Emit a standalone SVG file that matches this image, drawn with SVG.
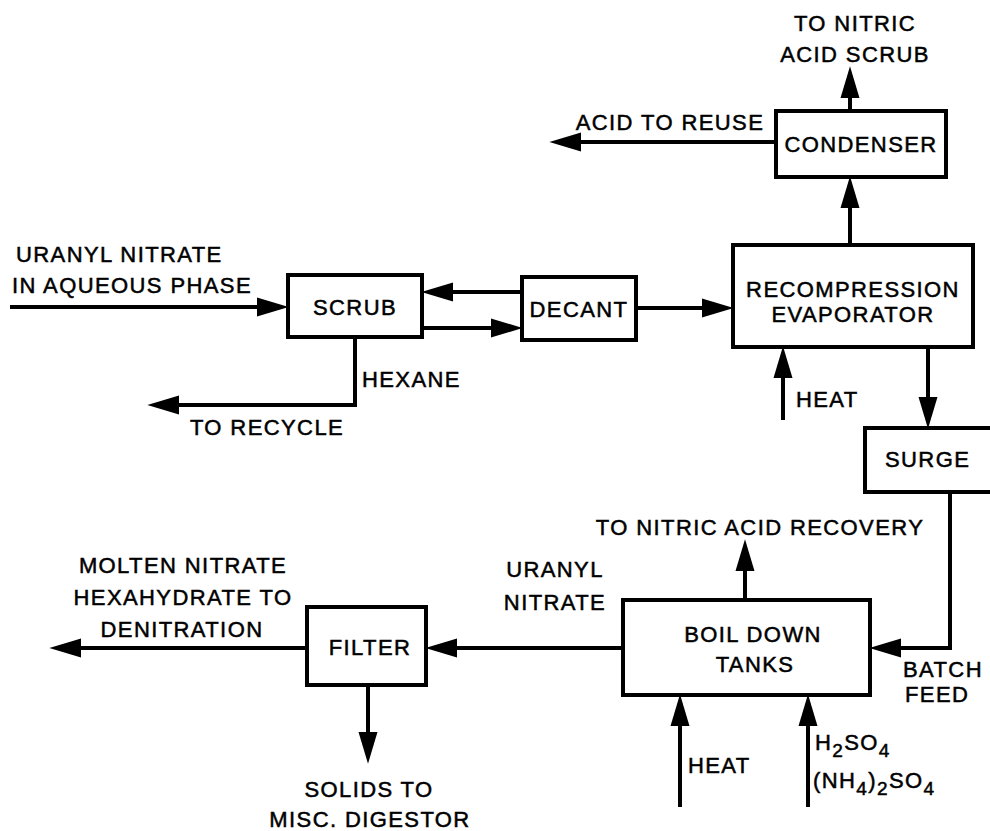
<svg xmlns="http://www.w3.org/2000/svg" width="990" height="831" viewBox="0 0 990 831">
<style>
.box{fill:#fff;stroke:#000;stroke-width:4}
.ln{fill:none;stroke:#000;stroke-width:4;marker-end:url(#ah)}
text{font-family:"Liberation Sans",Arial,sans-serif;font-size:22px;letter-spacing:1.4px;fill:#000;stroke:#000;stroke-width:0.5px}
.m{text-anchor:middle}
.sub{font-size:19px}
</style>
<defs>
<marker id="ah" markerUnits="userSpaceOnUse" markerWidth="32" markerHeight="20" viewBox="0 0 30 18" refX="20" refY="9" orient="auto">
<path d="M0,0 L30,9 L0,18 z" fill="#000"/>
</marker>
</defs>
<rect width="990" height="831" fill="#fff"/>
<g id="connectors">
<path class="ln" d="M10,307 H278"/>
<path class="ln" d="M422,328 H512"/>
<path class="ln" d="M522,292 H432"/>
<path class="ln" d="M636,308 H723"/>
<path class="ln" d="M355,337 V405 H158"/>
<path class="ln" d="M783,420 V357"/>
<path class="ln" d="M850,245 V187"/>
<path class="ln" d="M850,111 V77"/>
<path class="ln" d="M776,142 H560"/>
<path class="ln" d="M928,347 V418"/>
<path class="ln" d="M950,492 V648 H880"/>
<path class="ln" d="M745,600 V550"/>
<path class="ln" d="M680,807 V705"/>
<path class="ln" d="M808,807 V705"/>
<path class="ln" d="M623,648 H436"/>
<path class="ln" d="M307,648 H60"/>
<path class="ln" d="M368,685 V753"/>
</g>
<g id="labels">
<text class="m" x="855" y="31">TO NITRIC</text>
<text class="m" x="855" y="62">ACID SCRUB</text>
<text class="m" x="670" y="130">ACID TO REUSE</text>
<text x="16" y="262">URANYL NITRATE</text>
<text x="12" y="293">IN AQUEOUS PHASE</text>
<text x="362" y="387">HEXANE</text>
<text class="m" x="267" y="435">TO RECYCLE</text>
<text x="796" y="407">HEAT</text>
<text class="m" x="760" y="535">TO NITRIC ACID RECOVERY</text>
<text x="903" y="677">BATCH</text>
<text x="905" y="702">FEED</text>
<text class="m" x="555" y="577">URANYL</text>
<text class="m" x="555" y="610">NITRATE</text>
<text class="m" x="183" y="573">MOLTEN NITRATE</text>
<text class="m" x="183" y="605">HEXAHYDRATE TO</text>
<text class="m" x="182" y="637">DENITRATION</text>
<text class="m" x="369" y="797">SOLIDS TO</text>
<text class="m" x="370" y="827">MISC. DIGESTOR</text>
<text x="688" y="773">HEAT</text>
<text x="815" y="750">H<tspan class="sub" dy="7">2</tspan><tspan dy="-7">SO</tspan><tspan class="sub" dy="7">4</tspan></text>
<text x="813" y="788">(NH<tspan class="sub" dy="7">4</tspan><tspan dy="-7">)</tspan><tspan class="sub" dy="7">2</tspan><tspan dy="-7">SO</tspan><tspan class="sub" dy="7">4</tspan></text>
</g>
<g id="condenser">
<rect class="box" x="776" y="111" width="170" height="66"/>
<text class="m" x="861" y="152">CONDENSER</text>
</g>
<g id="scrub">
<rect class="box" x="288" y="275" width="134" height="62"/>
<text class="m" x="355" y="315">SCRUB</text>
</g>
<g id="decant">
<rect class="box" x="522" y="277" width="114" height="63"/>
<text class="m" x="579" y="317">DECANT</text>
</g>
<g id="evaporator">
<rect class="box" x="733" y="245" width="240" height="102"/>
<text class="m" x="853" y="297">RECOMPRESSION</text>
<text class="m" x="853" y="322">EVAPORATOR</text>
</g>
<g id="surge">
<rect class="box" x="865" y="428" width="140" height="64"/>
<text x="885" y="467">SURGE</text>
</g>
<g id="boildown">
<rect class="box" x="623" y="600" width="247" height="95"/>
<text class="m" x="753" y="642">BOIL DOWN</text>
<text class="m" x="755" y="672">TANKS</text>
</g>
<g id="filter">
<rect class="box" x="307" y="607" width="119" height="78"/>
<text class="m" x="370" y="655">FILTER</text>
</g>
</svg>
